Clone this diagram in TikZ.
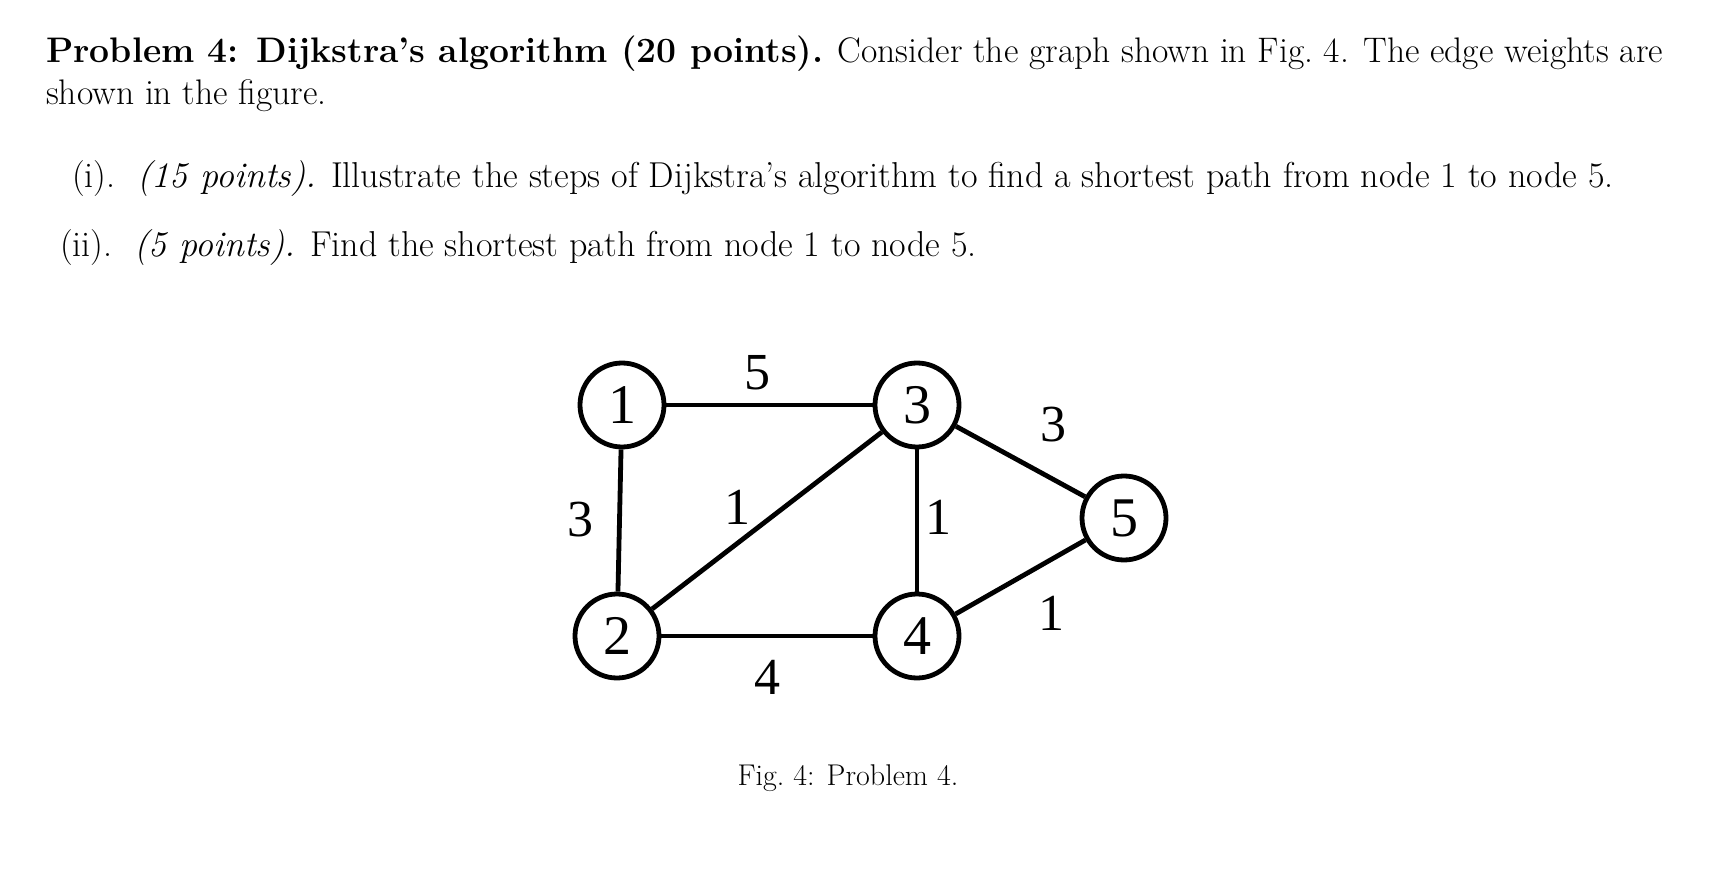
\documentclass[tikz,border=0pt]{standalone}
\usepackage{fontspec}
\newfontfamily\gfont{Liberation Serif}
\begin{document}
\begin{tikzpicture}[x=1pt,y=-1pt,
  vtx/.style={circle,draw,line width=4.8pt,minimum size=84pt,inner sep=0pt,font=\gfont\fontsize{56}{56}\selectfont},
  edge/.style={line width=4.8pt},
  wt/.style={font=\gfont\fontsize{52}{52}\selectfont}]
\useasboundingbox (0,0) rectangle (1718,890);
\node[anchor=base west,inner sep=0pt,text width=1617pt,align=justify,font=\fontsize{35.5}{41.5}\selectfont] (txt) at (46,63)
 {\textbf{Problem 4: Dijkstra's algorithm (20 points).} Consider the graph shown in Fig.~4. The edge weights are shown in the figure.};
\node[anchor=base west,inner sep=0pt,font=\fontsize{36}{41.5}\selectfont] (p1) at (72,188)
 {(i).\ \ \textit{(15 points).} Illustrate the steps of Dijkstra's algorithm to find a shortest path from node 1 to node 5.};
\node[anchor=base west,inner sep=0pt,font=\fontsize{36}{41.5}\selectfont] (p2) at (60,257)
 {(ii).\ \ \textit{(5 points).} Find the shortest path from node 1 to node 5.};
\node[anchor=base,inner sep=0pt,font=\fontsize{30}{36}\selectfont] (cap) at (848,785) {Fig.~4: Problem 4.};
\node[vtx] (n1) at (622,405) {1};
\node[vtx] (n2) at (617,636) {2};
\node[vtx] (n3) at (917,405) {3};
\node[vtx] (n4) at (917,636) {4};
\node[vtx] (n5) at (1124,518) {5};
\draw[edge] (n1) -- (n3);
\draw[edge] (n1) -- (n2);
\draw[edge] (n2) -- (n3);
\draw[edge] (n3) -- (n4);
\draw[edge] (n2) -- (n4);
\draw[edge] (n3) -- (n5);
\draw[edge] (n4) -- (n5);
\node[wt] (w13) at (757,373) {5};
\node[wt] (w12) at (580,520) {3};
\node[wt] (w23) at (737,507) {1};
\node[wt] (w34) at (938,517) {1};
\node[wt] (w35) at (1053,425) {3};
\node[wt] (w45) at (1051,613) {1};
\node[wt] (w24) at (767,677) {4};
\end{tikzpicture}
\end{document}
